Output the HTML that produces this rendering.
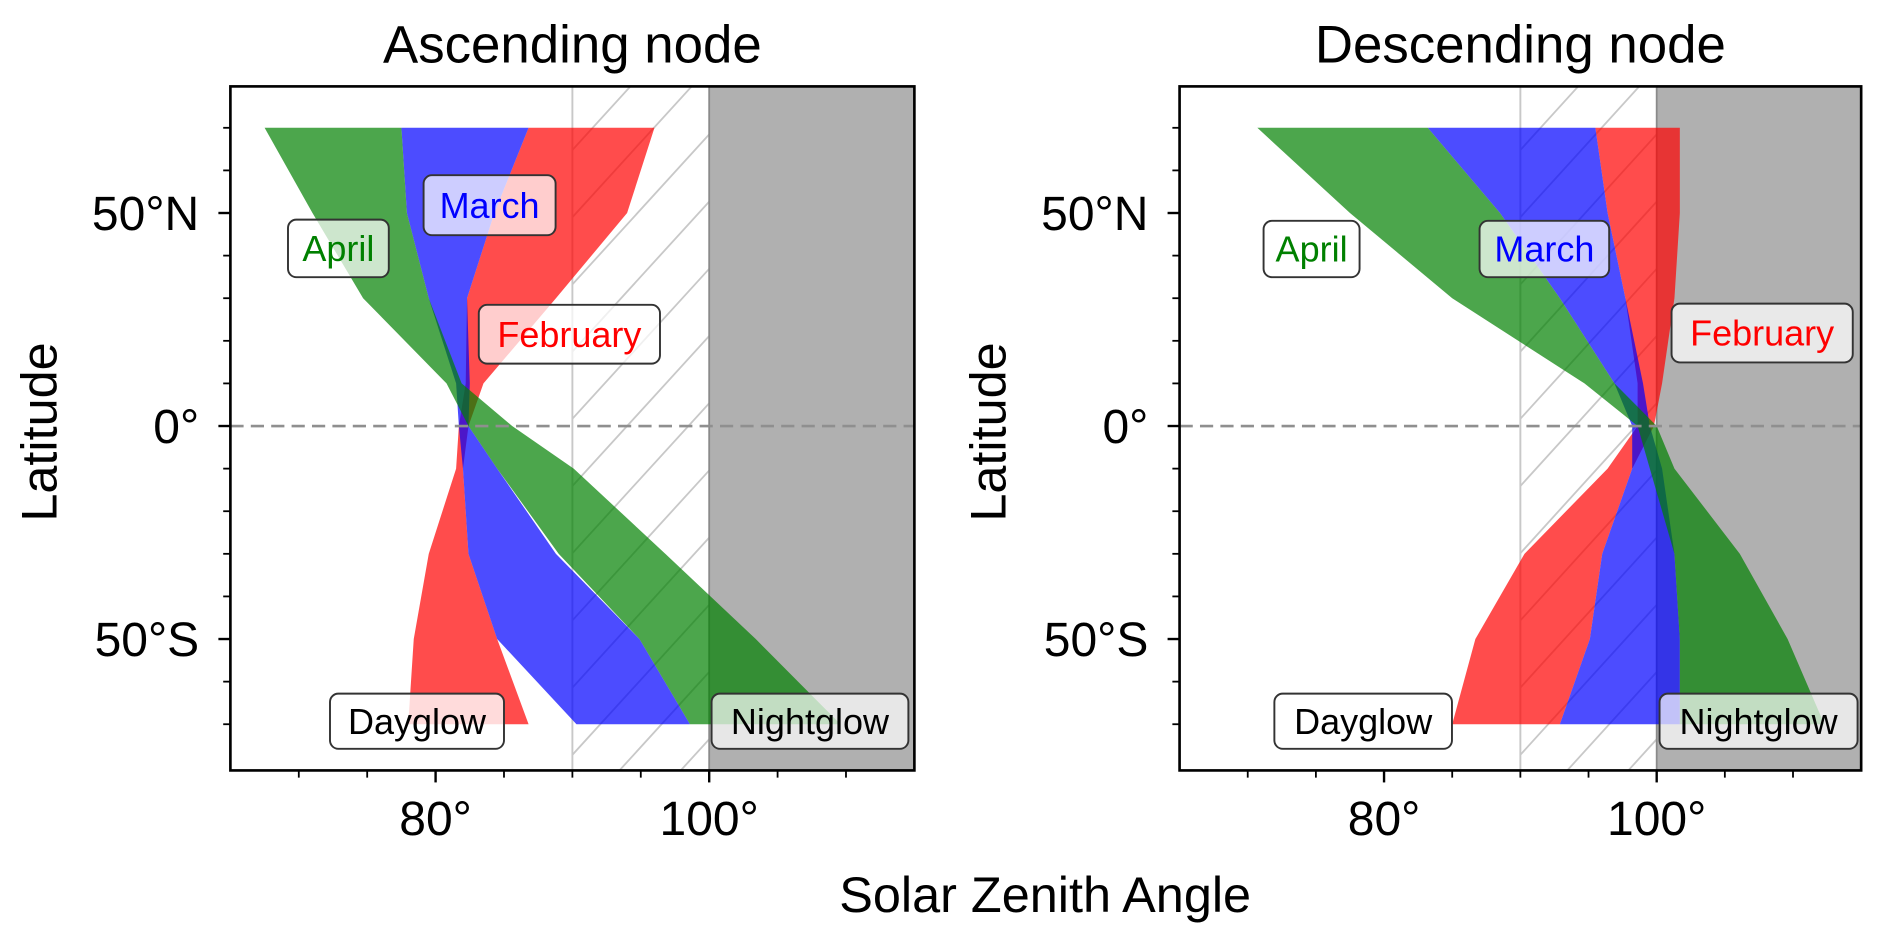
<!DOCTYPE html>
<html><head><meta charset="utf-8"><style>
html,body{margin:0;padding:0;background:#fff;overflow:hidden;width:1892px;height:946px;}
svg{display:block;font-family:"Liberation Sans",Arial,sans-serif;}
</style></head><body>
<svg id="fig" width="1892" height="946" viewBox="0 0 1576.7 788.3" preserveAspectRatio="none" xmlns="http://www.w3.org/2000/svg"></svg>
<script>
const lats = [70, 50, 30, 10, 0, -10, -30, -50, -70];
const months = ["February", "March", "April"];
const ascFebLo = [86.8, 84.3, 82.3, 82.2, 81.7, 81.5, 79.5, 78.4, 78.0];
const ascFebHi = [96.0, 94.0, 88.8, 83.5, 82.4, 82.0, 82.4, 84.5, 86.8];
const ascMarLo = [77.5, 77.9, 79.5, 81.5, 81.7, 82.0, 82.4, 84.5, 90.3];
const ascMarHi = [86.8, 84.3, 82.3, 82.5, 82.4, 84.5, 88.8, 94.9, 98.6];
const ascAprLo = [67.5, 71.0, 74.7, 80.8, 82.4, 84.5, 89.0, 94.9, 98.6];
const ascAprHi = [77.5, 77.9, 79.5, 81.9, 85.6, 90.1, 96.8, 103.4, 109.6];
const desFebLo = [95.5, 96.4, 97.7, 98.6, 98.6, 96.4, 90.3, 86.7, 85.0];
const desFebHi = [101.7, 101.7, 101.3, 100.4, 99.8, 98.2, 96.0, 95.1, 92.9];
const desMarLo = [83.2, 88.5, 92.9, 96.9, 98.2, 98.2, 96.0, 95.1, 92.9];
const desMarHi = [95.5, 96.4, 97.7, 99.0, 99.5, 100.4, 101.3, 101.7, 101.7];
const desAprLo = [70.7, 77.5, 85.0, 94.7, 98.6, 99.5, 101.3, 101.7, 101.7];
const desAprHi = [83.2, 88.5, 92.9, 96.9, 100.0, 101.3, 106.1, 109.6, 112.3];
const xMajor = [80, 100];
const xMinor = [70, 75, 85, 90, 95, 105, 110];
const yMajor = [50, 0, -50];
const yMajorLabels = ["50°N", "0°", "50°S"];
const yMinor = [70, 60, 40, 30, 20, 10, -10, -20, -30, -40, -60, -70];

const NS = "http://www.w3.org/2000/svg";
const svg = document.getElementById("fig");
function mk(tag, attrs, parent) {
  const e = document.createElementNS(NS, tag);
  for (const k in attrs) e.setAttribute(k, attrs[k]);
  (parent || svg).appendChild(e);
  return e;
}
const Y0 = 72, Y1 = 642;
function yS(lat) { return 355 - lat * 3.55; }

const panels = [
  {x0: 192, x1: 762, title: "Ascending node", key: "ascending",
   bands: [[ascFebLo, ascFebHi, "#ff0000"], [ascMarLo, ascMarHi, "#0000ff"], [ascAprLo, ascAprHi, "#008000"]],
   boxes: [["April", 240, 183, 84, 48, "#008000", "rgba(255,255,255,0.72)"],
           ["March", 353, 146, 110, 50, "#0000ff", "rgba(255,255,255,0.72)"],
           ["February", 399, 254, 151, 49, "#ff0000", "rgba(255,255,255,0.72)"],
           ["Dayglow", 275, 578, 145, 46, "#000", "rgba(255,255,255,0.8)"],
           ["Nightglow", 593, 578, 164, 46, "#000", "rgba(255,255,255,0.7)"]]},
  {x0: 983, x1: 1551, title: "Descending node", key: "descending",
   bands: [[desFebLo, desFebHi, "#ff0000"], [desMarLo, desMarHi, "#0000ff"], [desAprLo, desAprHi, "#008000"]],
   boxes: [["April", 1053, 184, 80, 47, "#008000", "rgba(255,255,255,0.72)"],
           ["March", 1233, 184, 108, 47, "#0000ff", "rgba(255,255,255,0.72)"],
           ["February", 1393, 253, 151, 49, "#ff0000", "rgba(255,255,255,0.72)"],
           ["Dayglow", 1062, 578, 148, 46, "#000", "rgba(255,255,255,0.8)"],
           ["Nightglow", 1383, 578, 165, 46, "#000", "rgba(255,255,255,0.7)"]]}
];

panels.forEach((p, pi) => {
  const xS = v => p.x0 + (v - 65) * (p.x1 - p.x0) / 50;
  const g = mk("g", {});
  
  
  const clipId = "clip" + pi;
  const cp = mk("clipPath", {id: clipId}, g);
  mk("rect", {x: p.x0, y: Y0, width: p.x1 - p.x0, height: Y1 - Y0}, cp);
  const inner = mk("g", {"clip-path": "url(#" + clipId + ")"}, g);
  const night = mk("rect", {x: xS(100), y: Y0, width: xS(115) - xS(100), height: Y1 - Y0, fill: "#b0b0b0"}, inner);
  
  
  const hg = mk("g", {stroke: "#c8c8c8", "stroke-width": 1.5}, inner);
  
  
  const hc = "hclip" + pi;
  const hcp = mk("clipPath", {id: hc}, g);
  mk("rect", {x: xS(90), y: Y0, width: xS(100) - xS(90), height: Y1 - Y0}, hcp);
  hg.setAttribute("clip-path", "url(#" + hc + ")");
  for (let k = -4; k < 14; k++) {
    const yb = Y0 + k * 56 + 40;
    mk("line", {x1: xS(90), y1: yb + 125, x2: xS(100), y2: yb}, hg);
  }
  mk("line", {x1: xS(90), y1: Y0, x2: xS(90), y2: Y1, stroke: "#c8c8c8", "stroke-width": 1.6}, inner);
  mk("line", {x1: xS(100), y1: Y0, x2: xS(100), y2: Y1, stroke: "#8a8a8a", "stroke-width": 1.5}, inner);
  p.bands.forEach((b, bi) => {
    const lo = b[0], hi = b[1];
    let d = "";
    lats.forEach((la, i) => { d += (i ? "L" : "M") + xS(lo[i]).toFixed(1) + "," + yS(la).toFixed(1); });
    for (let i = lats.length - 1; i >= 0; i--) d += "L" + xS(hi[i]).toFixed(1) + "," + yS(lats[i]).toFixed(1);
    d += "Z";
    const path = mk("path", {d: d, fill: b[2], "fill-opacity": 0.7, "stroke-linejoin": "round"}, inner);
    
    
  });
  const eq = mk("line", {x1: p.x0, y1: yS(0), x2: p.x1, y2: yS(0), stroke: "#8f8f8f", "stroke-width": 2.2, "stroke-dasharray": "11,6"}, inner);
  
  
  p.boxes.forEach(bx => {
    const bg = mk("g", {}, g);
    
    
    mk("rect", {x: bx[1], y: bx[2], width: bx[3], height: bx[4], rx: 7, fill: bx[6], stroke: "#333", "stroke-width": 1.6}, bg);
    const t = mk("text", {x: bx[1] + bx[3] / 2, y: bx[2] + bx[4] / 2 + 10.5, "text-anchor": "middle", "font-size": 30, fill: bx[5]}, bg);
    t.textContent = bx[0];
  });
  const sp = mk("rect", {x: p.x0, y: Y0, width: p.x1 - p.x0, height: Y1 - Y0, fill: "none", stroke: "#000", "stroke-width": 2.2}, g);
  
  
  xMajor.forEach(v => {
    mk("line", {x1: xS(v), y1: Y1, x2: xS(v), y2: Y1 + 10, stroke: "#000", "stroke-width": 2}, g);
    const t = mk("text", {x: xS(v), y: Y1 + 54, "text-anchor": "middle", "font-size": 40}, g);
    
    
    t.textContent = v + "°";
  });
  xMinor.forEach(v => mk("line", {x1: xS(v), y1: Y1, x2: xS(v), y2: Y1 + 6, stroke: "#000", "stroke-width": 1.5}, g));
  yMajor.forEach((v, i) => {
    mk("line", {x1: p.x0 - 10, y1: yS(v), x2: p.x0, y2: yS(v), stroke: "#000", "stroke-width": 2}, g);
    const t = mk("text", {x: p.x0 - 26, y: yS(v) + 14, "text-anchor": "end", "font-size": 40}, g);
    
    
    t.textContent = yMajorLabels[i];
  });
  yMinor.forEach(v => mk("line", {x1: p.x0 - 6, y1: yS(v), x2: p.x0, y2: yS(v), stroke: "#000", "stroke-width": 1.5}, g));
  const tt = mk("text", {x: (p.x0 + p.x1) / 2, y: 52, "text-anchor": "middle", "font-size": 44}, g);
  
  
  tt.textContent = p.title;
  const yl = mk("text", {x: 0, y: 0, "text-anchor": "middle", "font-size": 42, transform: "translate(" + (p.x0 - 145) + "," + 360 + ") rotate(-90)"}, g);
  
  
  yl.textContent = "Latitude";
});
const xt = mk("text", {x: 871, y: 760, "text-anchor": "middle", "font-size": 42});


xt.textContent = "Solar Zenith Angle";
</script>
</body></html>
